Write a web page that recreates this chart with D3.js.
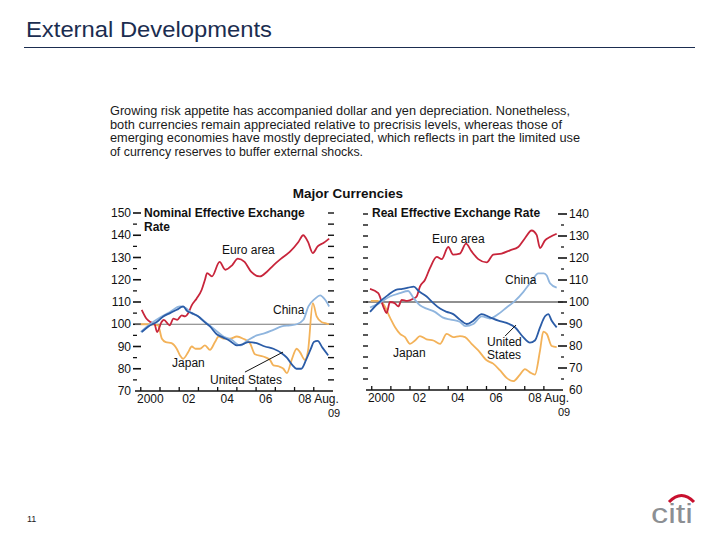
<!DOCTYPE html>
<html>
<head>
<meta charset="utf-8">
<script src="https://cdn.jsdelivr.net/npm/d3@7"></script>
<style>
  body { margin: 0; background: #fff; }
  svg { display: block; font-family: "Liberation Sans", Arial, sans-serif; }
</style>
</head>
<body>
<svg id="chart" width="720" height="540"></svg>
<script>
// ---- text ----
const pageTitle = "External Developments";
const introLines = [
  "Growing risk appetite has accompanied dollar and yen depreciation. Nonetheless,",
  "both currencies remain appreciated relative to precrisis levels, whereas those of",
  "emerging economies have mostly depreciated, which reflects in part the limited use",
  "of currency reserves to buffer external shocks."
];
const introWidths = [460, 452, 470, 253];
const chartTitle = "Major Currencies";

// ---- axes ----
const xTickYears = [2000, 2002, 2004, 2006, 2008];
const xTickText = ["2000", "02", "04", "06", "08 Aug."];
const neerTicks = [70, 80, 90, 100, 110, 120, 130, 140, 150];
const reerTicks = [60, 70, 80, 90, 100, 110, 120, 130, 140];

// ---- nominal effective exchange rate (index) ----
const neerEuro = [[2000.05,106.5],[2000.3,102.5],[2000.5,101],[2000.72,100],[2000.85,96.5],[2001.08,101],[2001.2,102],[2001.5,99.5],[2001.7,102.5],[2001.9,102],[2002.13,104],[2002.3,103.5],[2002.47,105],[2002.65,108.5],[2002.9,111.5],[2003.17,115.5],[2003.34,120],[2003.45,123],[2003.7,121.5],[2004.1,128],[2004.4,124.5],[2004.75,126.5],[2005.05,129.5],[2005.4,128],[2005.75,123.5],[2006.2,121.5],[2006.55,123.5],[2006.9,126.5],[2007.3,129.5],[2007.75,132.5],[2008.2,137],[2008.45,140],[2008.7,137],[2008.95,132],[2009.2,135],[2009.5,136.5],[2009.8,138.5]];
const neerChina = [[2000.0,96.5],[2000.48,100],[2001.0,103],[2001.52,105.5],[2002.04,108],[2002.3,107.5],[2002.65,105],[2003.0,103.5],[2003.43,100.5],[2003.86,97.5],[2004.3,94.5],[2004.73,93],[2005.16,90.5],[2005.6,93],[2006.03,95],[2006.46,96],[2006.9,97.5],[2007.33,99],[2007.76,99.5],[2008.11,100],[2008.46,102],[2008.72,108],[2009.07,111.5],[2009.33,113],[2009.59,111],[2009.8,108]];
const neerUS = [[2000.05,96.5],[2000.4,99],[2000.83,101],[2001.17,103.5],[2001.52,105],[2001.87,106.5],[2002.21,108],[2002.4,106],[2002.65,105],[2003.0,103.5],[2003.25,101.5],[2003.6,99],[2003.95,95.5],[2004.3,94],[2004.64,92.5],[2005.0,90.5],[2005.3,91],[2005.6,92],[2006.03,91.5],[2006.46,90],[2006.9,89],[2007.33,87],[2007.6,85],[2007.9,81.5],[2008.1,80],[2008.35,80],[2008.6,84],[2008.85,89],[2009.0,92],[2009.2,92.5],[2009.45,89.5],[2009.75,86]];
const neerJapan = [[2000.0,100],[2000.5,100],[2000.9,99.5],[2001.1,93.5],[2001.3,92],[2001.6,91.5],[2001.87,89],[2002.04,86],[2002.2,84.5],[2002.47,87.5],[2002.65,90],[2002.85,89],[2003.08,89],[2003.34,90.5],[2003.6,88.5],[2003.86,92],[2004.05,94.5],[2004.35,93.5],[2004.64,93.5],[2005.0,94.5],[2005.33,93.5],[2005.68,91.5],[2005.94,86.5],[2006.37,85.5],[2006.72,84],[2006.9,81.5],[2007.2,81],[2007.42,80],[2007.6,78],[2007.85,84],[2008.11,89],[2008.28,87.5],[2008.54,84],[2008.7,88],[2008.95,109.5],[2009.15,103.5],[2009.4,101],[2009.6,100.5],[2009.8,100]];

// ---- real effective exchange rate (index) ----
const reerEuro = [[1999.91,106],[2000.34,104],[2000.6,98],[2000.78,95],[2000.95,100],[2001.2,99.5],[2001.39,98],[2001.57,101],[2001.85,100.5],[2002.17,101.5],[2002.35,102.5],[2002.52,107],[2002.78,110],[2003.05,115.5],[2003.4,120.5],[2003.66,119.5],[2004.0,125],[2004.26,121.5],[2004.61,122],[2004.93,126.5],[2005.22,123],[2005.57,119.5],[2006.01,118],[2006.35,121.5],[2006.79,122],[2007.23,123.5],[2007.66,125],[2008.01,129],[2008.36,132.5],[2008.62,130.5],[2008.8,124.5],[2009.06,128],[2009.32,129.5],[2009.67,131]];
const reerChina = [[1999.91,97.5],[2000.4,99.5],[2000.95,102.5],[2001.47,104],[2001.9,105],[2002.17,102],[2002.52,98.5],[2002.87,97],[2003.3,95.5],[2003.7,93],[2004.13,92],[2004.6,91],[2004.9,89],[2005.31,90],[2005.75,93.5],[2006.18,92.5],[2006.62,94.5],[2007.05,97.5],[2007.49,100.5],[2007.92,104.5],[2008.36,109.5],[2008.71,113],[2009.0,113],[2009.15,112],[2009.32,108.5],[2009.67,106.5]];
const reerUS = [[1999.91,95.5],[2000.4,100],[2000.83,103],[2001.26,105.5],[2001.6,106],[2001.9,106.5],[2002.2,107],[2002.45,105],[2002.87,102.5],[2003.22,99.5],[2003.57,97],[2003.92,95.5],[2004.26,94.5],[2004.61,92],[2004.96,90],[2005.31,91.5],[2005.75,94.5],[2006.18,93],[2006.62,91.5],[2007.05,90.5],[2007.49,88.5],[2007.92,84],[2008.27,81.5],[2008.53,82.5],[2008.8,88.5],[2009.06,93.5],[2009.23,94.5],[2009.41,91.5],[2009.67,88.5]];
const reerJapan = [[1999.95,100.5],[2000.3,100.5],[2000.61,99],[2000.95,93],[2001.22,88.5],[2001.48,85.5],[2001.74,84],[2002.0,81],[2002.26,82.5],[2002.52,84.5],[2002.87,83],[2003.22,82.5],[2003.57,81],[2003.92,85.5],[2004.26,84],[2004.61,84.5],[2004.88,84],[2005.22,81],[2005.57,78],[2006.01,73.5],[2006.35,72],[2006.7,69],[2007.05,65.5],[2007.4,64],[2007.75,67],[2008.01,69.5],[2008.27,68],[2008.53,67],[2008.8,78],[2008.97,86.5],[2009.15,85.5],[2009.41,80],[2009.67,79.5]];

const colors = { euro: "#c8253b", us: "#2b5ca7", china: "#8fb5de", japan: "#f3b259" };

const svg = d3.select("#chart");

// header
svg.append("text")
  .attr("x", 26).attr("y", 37)
  .attr("font-size", 22).attr("fill", "#1b2d50")
  .attr("textLength", 246).attr("lengthAdjust", "spacingAndGlyphs")
  .text(pageTitle);
svg.append("line")
  .attr("x1", 24).attr("x2", 695).attr("y1", 47.5).attr("y2", 47.5)
  .attr("stroke", "#1b2d50").attr("stroke-width", 1);

introLines.forEach((s, i) => {
  svg.append("text")
    .attr("x", 110).attr("y", 115 + i * 13.7)
    .attr("font-size", 12).attr("fill", "#1a1a1a")
    .attr("textLength", introWidths[i]).attr("lengthAdjust", "spacingAndGlyphs")
    .text(s);
});

svg.append("text")
  .attr("x", 348).attr("y", 198)
  .attr("text-anchor", "middle")
  .attr("font-size", 13.5).attr("font-weight", "bold").attr("fill", "#111")
  .text(chartTitle);

function drawPanel(cfg) {
  const x = d3.scaleLinear().domain([1999.7, 2010]).range(cfg.xRange);
  const y = d3.scaleLinear().domain(cfg.yDomain).range(cfg.yRange);
  const g = svg.append("g");
  const [x0, x1] = cfg.xRange;
  const yBottom = cfg.yRange[0];
  const fives = d3.range(cfg.yDomain[0] + 5, cfg.yDomain[1] + 1, 5);

  // y ticks on both sides
  fives.forEach(v => {
    const major = v % 10 === 0;
    if (cfg.labelSide === "left") {
      g.append("line").attr("x1", x0 - 2).attr("x2", x0 + (major ? 6 : 2))
        .attr("y1", y(v)).attr("y2", y(v))
        .attr("stroke", "#111").attr("stroke-width", major ? 1.6 : 1.3);
      g.append("line").attr("x1", x1 - 5).attr("x2", x1 + 1)
        .attr("y1", y(v)).attr("y2", y(v))
        .attr("stroke", "#111").attr("stroke-width", 1.4);
    } else {
      g.append("line").attr("x1", x0 - 3).attr("x2", x0 + 2)
        .attr("y1", y(v)).attr("y2", y(v))
        .attr("stroke", "#111").attr("stroke-width", 1.4);
      g.append("line").attr("x1", x1 - (major ? 5 : 2)).attr("x2", x1 + (major ? 4 : 1))
        .attr("y1", y(v)).attr("y2", y(v))
        .attr("stroke", "#111").attr("stroke-width", major ? 1.6 : 1.3);
    }
  });

  // y labels
  g.selectAll("text.ylab").data(cfg.yTicks).join("text")
    .attr("class", "ylab")
    .attr("x", cfg.labelSide === "left" ? x0 - 4 : x1 + 6)
    .attr("y", d => y(d) + 4)
    .attr("text-anchor", cfg.labelSide === "left" ? "end" : "start")
    .attr("font-size", 12).attr("fill", "#111")
    .text(d => d);

  // reference line at 100
  g.append("line").attr("x1", x0).attr("x2", x1)
    .attr("y1", y(100)).attr("y2", y(100))
    .attr("stroke", cfg.refColor).attr("stroke-width", 1.2);

  // bottom axis
  g.append("line").attr("x1", x0).attr("x2", x1)
    .attr("y1", yBottom).attr("y2", yBottom)
    .attr("stroke", "#111").attr("stroke-width", 1.6);
  d3.range(2000, 2010).forEach(yr => {
    g.append("line").attr("x1", x(yr)).attr("x2", x(yr))
      .attr("y1", yBottom).attr("y2", yBottom - 4)
      .attr("stroke", "#111").attr("stroke-width", 1.3);
  });
  xTickYears.forEach((yr, i) => {
    const last = i === xTickYears.length - 1;
    g.append("text")
      .attr("x", last ? x(yr + 0.5) - 6 : x(yr + 0.5))
      .attr("y", yBottom + 12)
      .attr("text-anchor", last ? "start" : "middle")
      .attr("font-size", 12).attr("fill", "#111")
      .text(xTickText[i]);
  });
  g.append("text").attr("x", x1 + 1).attr("y", yBottom + 26)
    .attr("text-anchor", "middle").attr("font-size", 11).attr("fill", "#111")
    .text("09");

  // titles
  cfg.title.forEach((t, i) => {
    g.append("text").attr("x", cfg.titleX).attr("y", 217 + i * 14)
      .attr("font-size", 12).attr("font-weight", "bold").attr("fill", "#111")
      .text(t);
  });

  // series
  const line = d3.line().x(d => x(d[0])).y(d => y(d[1])).curve(d3.curveMonotoneX);
  cfg.series.forEach(s => {
    g.append("path").datum(s.data)
      .attr("d", line)
      .attr("fill", "none")
      .attr("stroke", s.color)
      .attr("stroke-width", 1.8)
      .attr("stroke-linejoin", "round");
  });

  // annotations
  cfg.labels.forEach(l => {
    g.append("text").attr("x", x(l.t)).attr("y", y(l.v))
      .attr("font-size", 12).attr("fill", "#111")
      .text(l.text);
  });
  const lead = cfg.leader;
  g.append("line")
    .attr("x1", x(lead[0][0])).attr("y1", y(lead[0][1]))
    .attr("x2", x(lead[1][0])).attr("y2", y(lead[1][1]))
    .attr("stroke", "#111").attr("stroke-width", 1);
}

drawPanel({
  xRange: [135, 333],
  yDomain: [70, 150],
  yRange: [391, 213],
  yTicks: neerTicks,
  labelSide: "left",
  refColor: "#777",
  title: ["Nominal Effective Exchange", "Rate"],
  titleX: 144,
  series: [
    { data: neerJapan, color: colors.japan },
    { data: neerEuro, color: colors.euro },
    { data: neerChina, color: colors.china },
    { data: neerUS, color: colors.us }
  ],
  labels: [
    { text: "Euro area", t: 2004.23, v: 131.6 },
    { text: "China", t: 2006.88, v: 104.6 },
    { text: "Japan", t: 2001.63, v: 80.8 },
    { text: "United States", t: 2003.6, v: 73.1 }
  ],
  leader: [[2005.42, 78.5], [2007.4, 87.5]]
});

drawPanel({
  xRange: [366, 563],
  yDomain: [60, 140],
  yRange: [390, 214],
  yTicks: reerTicks,
  labelSide: "right",
  refColor: "#222",
  title: ["Real Effective Exchange Rate"],
  titleX: 372,
  series: [
    { data: reerJapan, color: colors.japan },
    { data: reerEuro, color: colors.euro },
    { data: reerChina, color: colors.china },
    { data: reerUS, color: colors.us }
  ],
  labels: [
    { text: "Euro area", t: 2003.15, v: 126.8 },
    { text: "China", t: 2006.97, v: 108.2 },
    { text: "Japan", t: 2001.11, v: 75 },
    { text: "United", t: 2006.03, v: 80 },
    { text: "States", t: 2006.03, v: 74.1 }
  ],
  leader: [[2006.97, 84.5], [2007.54, 89.5]]
});

// footer
svg.append("text").attr("x", 27).attr("y", 522)
  .attr("font-size", 9).attr("fill", "#222").text("11");
svg.append("text").attr("x", 651).attr("y", 523)
  .attr("font-size", 27).attr("fill", "#8c8f93")
  .attr("textLength", 42).attr("lengthAdjust", "spacingAndGlyphs")
  .text("citi");
svg.append("path")
  .attr("d", "M669,502 Q681.5,489 694,502")
  .attr("fill", "none").attr("stroke", "#c8102e").attr("stroke-width", 3);
</script>
</body>
</html>
